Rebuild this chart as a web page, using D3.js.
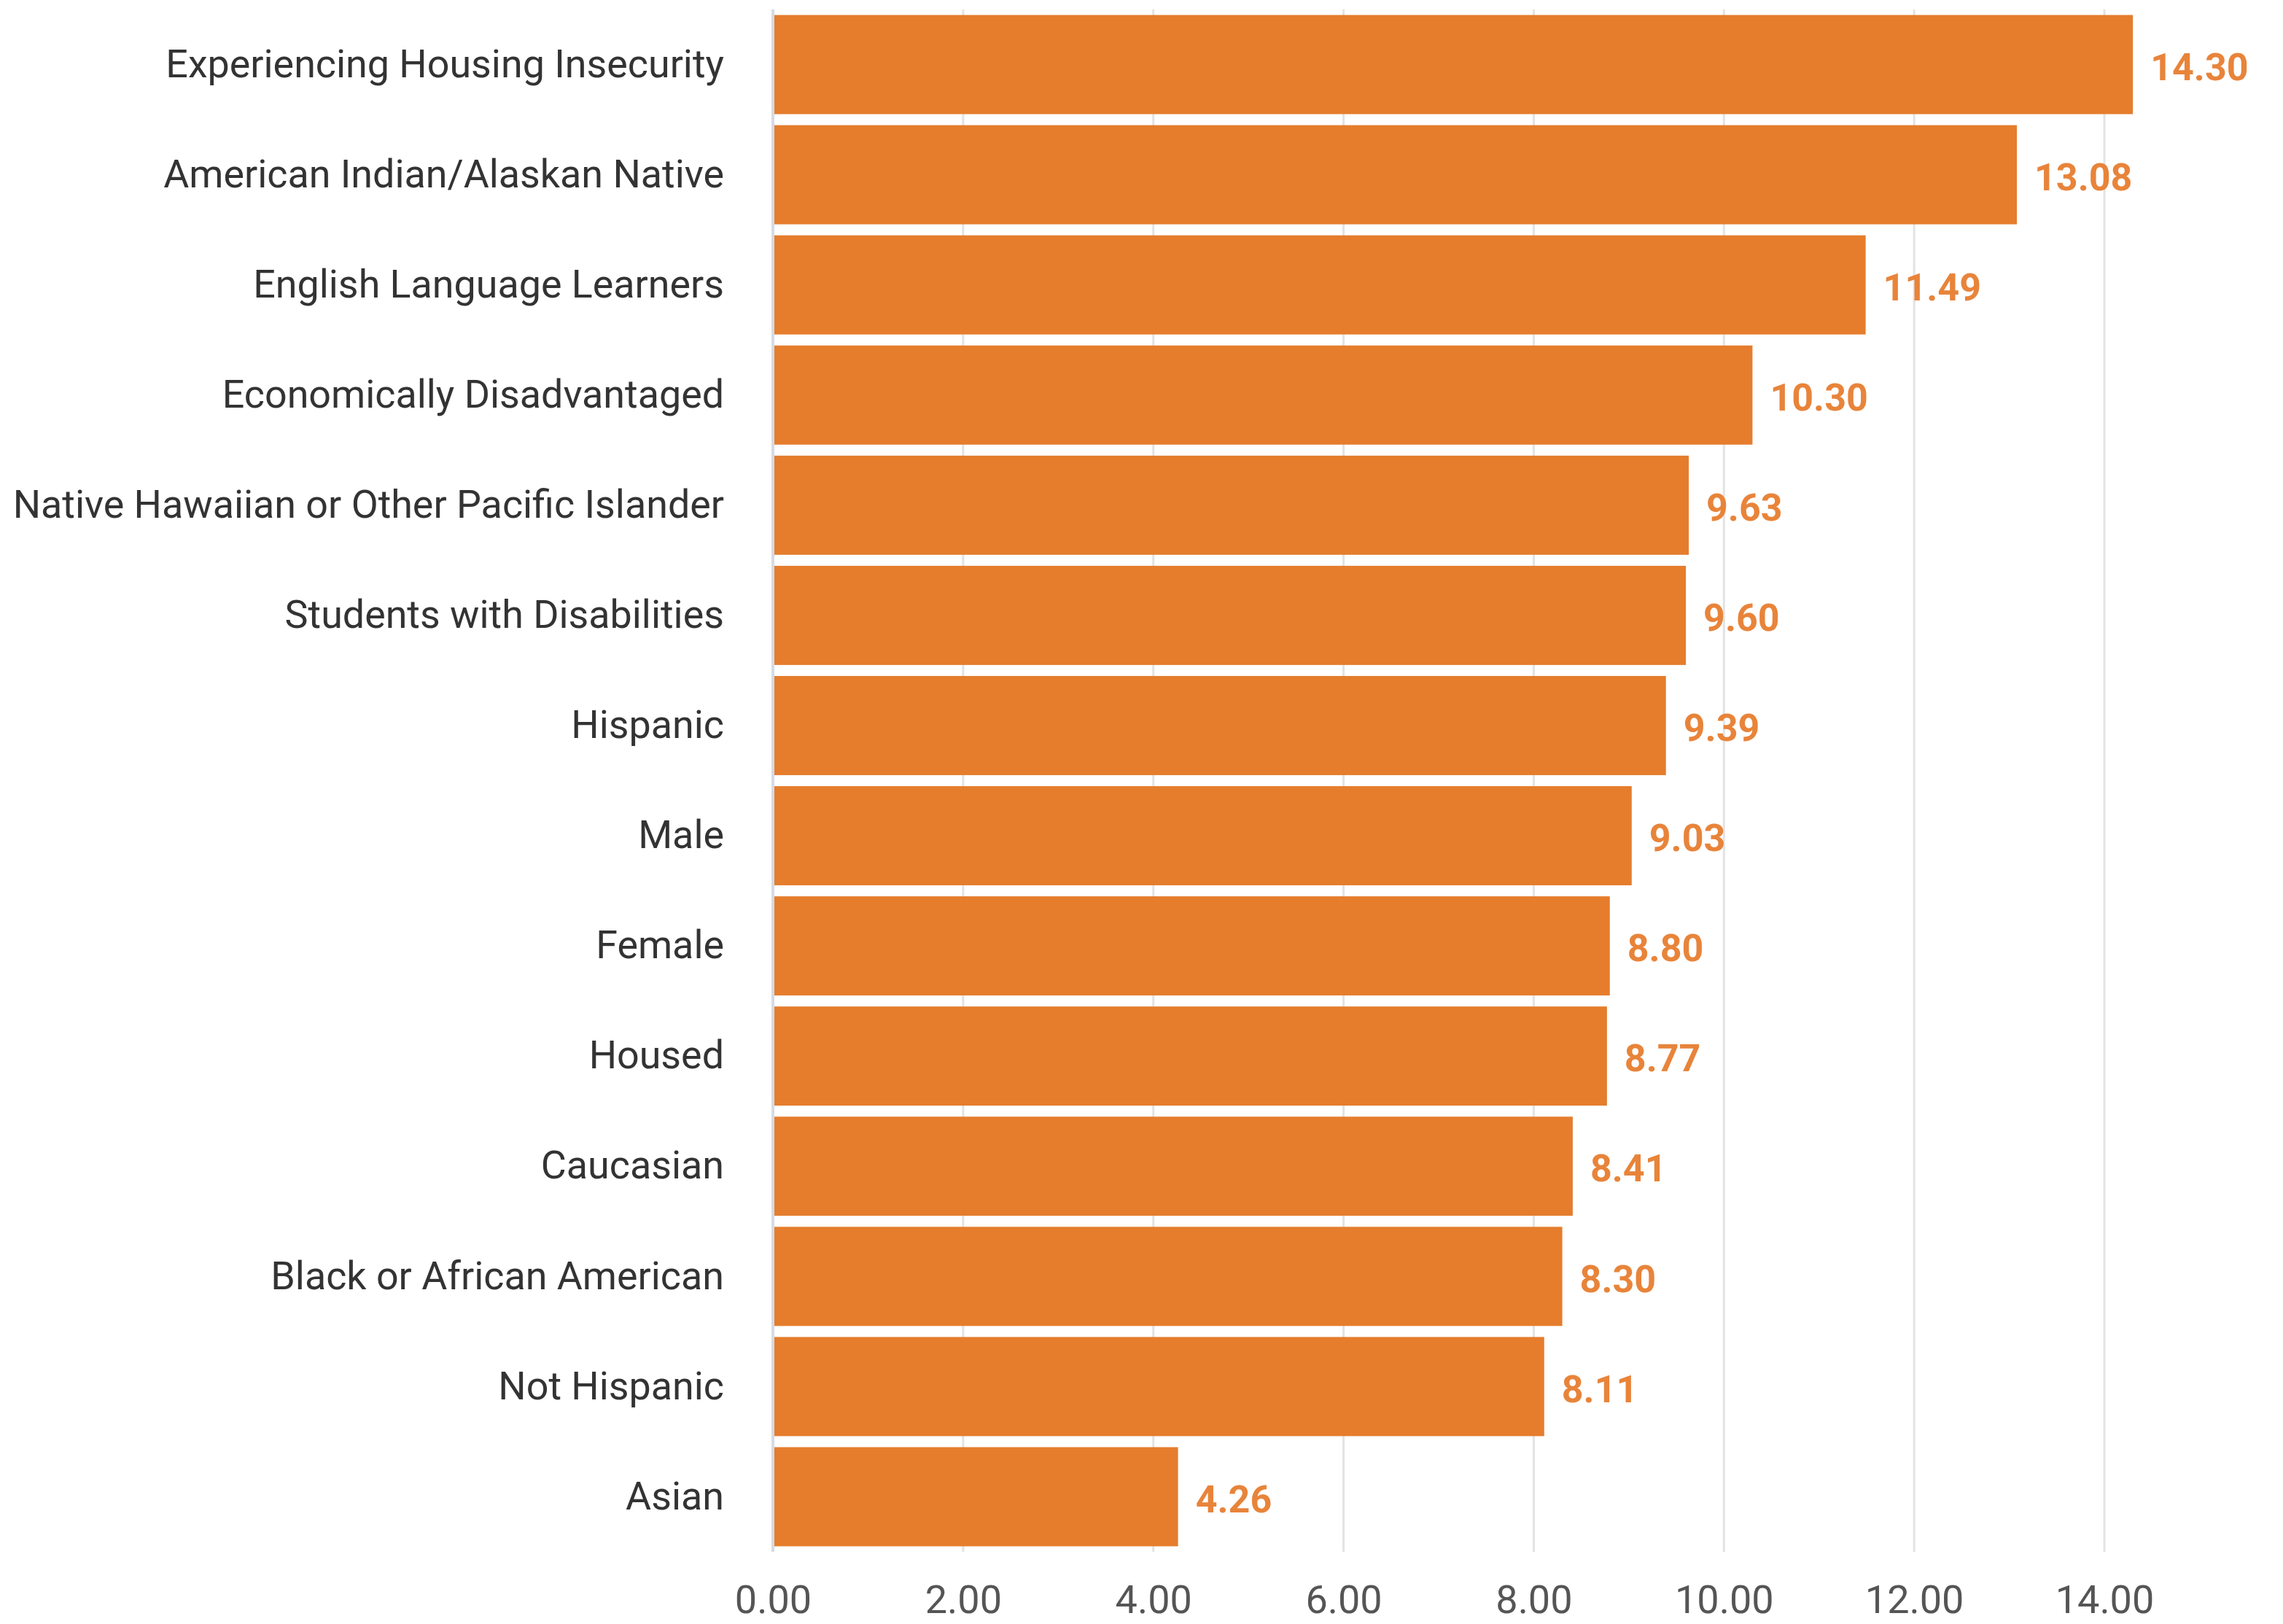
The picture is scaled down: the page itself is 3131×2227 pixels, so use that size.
<!DOCTYPE html>
<html>
<head>
<meta charset="utf-8">
<script src="https://cdn.jsdelivr.net/npm/d3@7"></script>
<style>
  body { margin: 0; background: #fff; }
  svg { display: block; font-family: Roboto, "Noto Sans", sans-serif; }
</style>
</head>
<body>
<svg id="chart"></svg>
<script>
// Category names, top to bottom
const categories = [
  "Experiencing Housing Insecurity",
  "American Indian/Alaskan Native",
  "English Language Learners",
  "Economically Disadvantaged",
  "Native Hawaiian or Other Pacific Islander",
  "Students with Disabilities",
  "Hispanic",
  "Male",
  "Female",
  "Housed",
  "Caucasian",
  "Black or African American",
  "Not Hispanic",
  "Asian"
];

// Bar values
const values = [14.30, 13.08, 11.49, 10.30, 9.63, 9.60, 9.39, 9.03, 8.80, 8.77, 8.41, 8.30, 8.11, 4.26];

// x axis ticks
const xTicks = [0, 2, 4, 6, 8, 10, 12, 14];

const data = categories.map((c, i) => ({ name: c, value: values[i] }));

const width = 3131, height = 2227;
const margin = { top: 13, right: 0, bottom: 99, left: 1060 };
const plotRight = 2886;

const svg = d3.select("#chart")
    .attr("width", width)
    .attr("height", height);

// Scales
const x = d3.scaleLinear()
    .domain([0, 14])
    .range([margin.left, plotRight]);

const y = d3.scaleBand()
    .domain(categories)
    .range([margin.top, height - margin.bottom])
    .paddingInner(0.1)
    .paddingOuter(0.05);

// Vertical gridlines
svg.append("g")
    .selectAll("line")
    .data(xTicks.slice(1))
    .enter()
    .append("line")
    .attr("x1", d => x(d))
    .attr("x2", d => x(d))
    .attr("y1", margin.top)
    .attr("y2", height - margin.bottom)
    .attr("stroke", "#e3e3e3")
    .attr("stroke-width", 3);

// Bars
svg.append("g")
    .selectAll("rect")
    .data(data)
    .enter()
    .append("rect")
    .attr("x", x(0))
    .attr("y", d => y(d.name))
    .attr("width", d => x(d.value) - x(0))
    .attr("height", y.bandwidth())
    .attr("fill", "#e57d2d");

// Value labels
svg.append("g")
    .selectAll("text")
    .data(data)
    .enter()
    .append("text")
    .attr("x", d => x(d.value) + 24)
    .attr("y", d => y(d.name) + y.bandwidth() / 2 + 3)
    .attr("dy", "0.35em")
    .attr("fill", "#e8843a")
    .style("font-size", "52px")
    .style("font-weight", "bold")
    .text(d => d.value.toFixed(2));

// Zero line
svg.append("line")
    .attr("x1", x(0))
    .attr("x2", x(0))
    .attr("y1", margin.top)
    .attr("y2", height - margin.bottom)
    .attr("stroke", "#d5dbe6")
    .attr("stroke-width", 4);

// Category labels (y axis)
const yAxis = svg.append("g")
    .attr("transform", "translate(" + (margin.left - 67) + ",0)")
    .call(d3.axisLeft(y).tickSize(0).tickPadding(0));
yAxis.select(".domain").remove();
yAxis.selectAll("text")
    .attr("fill", "#333")
    .style("font-size", "53.8px")
    .style("font-family", "Roboto, sans-serif");

// x axis tick labels
const xAxis = svg.append("g")
    .attr("transform", "translate(0," + (height - margin.bottom) + ")")
    .call(d3.axisBottom(x).tickValues(xTicks).tickSize(0).tickPadding(46).tickFormat(d3.format(".2f")));
xAxis.select(".domain").remove();
xAxis.selectAll("text")
    .attr("fill", "#555")
    .style("font-size", "54px")
    .style("font-family", "Roboto, sans-serif");
</script>
</body>
</html>
